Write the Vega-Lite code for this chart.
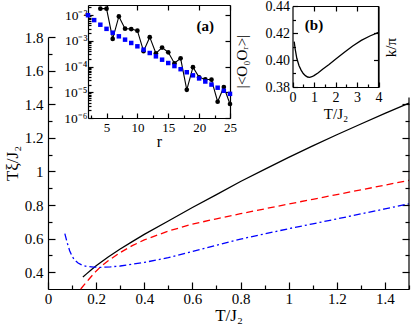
{
  "$schema": "https://vega.github.io/schema/vega-lite/v6.json",
  "width": 411,
  "height": 328,
  "autosize": "none",
  "padding": 0,
  "config": {
    "view": {"stroke": null},
    "font": "Liberation Serif",
    "axis": {
      "grid": false,
      "labelFlush": false,
      "labelOverlap": false,
      "domainColor": "#000",
      "tickColor": "#000",
      "labelColor": "#000",
      "titleColor": "#000",
      "domainWidth": 1.2,
      "tickWidth": 1.2,
      "labelFont": "Liberation Serif",
      "titleFont": "Liberation Serif",
      "titleFontWeight": "normal"
    }
  },
  "datasets": {
    "c1": [
      {"T": 0.145, "v": 0.371}, {"T": 0.16, "v": 0.39}, {"T": 0.18, "v": 0.415}, {"T": 0.2, "v": 0.438},
      {"T": 0.25, "v": 0.49}, {"T": 0.3, "v": 0.538}, {"T": 0.35, "v": 0.582}, {"T": 0.4, "v": 0.625},
      {"T": 0.5, "v": 0.705}, {"T": 0.6, "v": 0.785}, {"T": 0.7, "v": 0.862}, {"T": 0.8, "v": 0.94},
      {"T": 0.9, "v": 1.012}, {"T": 1.0, "v": 1.083}, {"T": 1.1, "v": 1.152}, {"T": 1.2, "v": 1.218},
      {"T": 1.3, "v": 1.282}, {"T": 1.4, "v": 1.345}, {"T": 1.5, "v": 1.406}
    ],
    "c2": [
      {"T": 0.136, "v": 0.3}, {"T": 0.15, "v": 0.325}, {"T": 0.17, "v": 0.358}, {"T": 0.195, "v": 0.399},
      {"T": 0.22, "v": 0.434}, {"T": 0.25, "v": 0.468}, {"T": 0.3, "v": 0.517}, {"T": 0.35, "v": 0.558},
      {"T": 0.4, "v": 0.592}, {"T": 0.5, "v": 0.645}, {"T": 0.6, "v": 0.686}, {"T": 0.7, "v": 0.718},
      {"T": 0.8, "v": 0.748}, {"T": 0.9, "v": 0.777}, {"T": 1.0, "v": 0.806}, {"T": 1.1, "v": 0.834},
      {"T": 1.2, "v": 0.862}, {"T": 1.3, "v": 0.89}, {"T": 1.4, "v": 0.918}, {"T": 1.5, "v": 0.947}
    ],
    "c3": [
      {"T": 0.07, "v": 0.63}, {"T": 0.08, "v": 0.574}, {"T": 0.09, "v": 0.528}, {"T": 0.1, "v": 0.495},
      {"T": 0.11, "v": 0.473}, {"T": 0.125, "v": 0.455}, {"T": 0.14, "v": 0.443}, {"T": 0.16, "v": 0.435},
      {"T": 0.19, "v": 0.43}, {"T": 0.22, "v": 0.429}, {"T": 0.26, "v": 0.432}, {"T": 0.3, "v": 0.437},
      {"T": 0.4, "v": 0.458}, {"T": 0.5, "v": 0.487}, {"T": 0.6, "v": 0.523}, {"T": 0.7, "v": 0.56},
      {"T": 0.8, "v": 0.597}, {"T": 0.9, "v": 0.628}, {"T": 1.0, "v": 0.659}, {"T": 1.1, "v": 0.688},
      {"T": 1.2, "v": 0.717}, {"T": 1.3, "v": 0.747}, {"T": 1.4, "v": 0.777}, {"T": 1.5, "v": 0.807}
    ],
    "blk": [
      {"r": 4, "c": 0.018}, {"r": 5, "c": 0.018}, {"r": 6, "c": 0.0012}, {"r": 7, "c": 0.009},
      {"r": 8, "c": 0.003}, {"r": 9, "c": 0.0029}, {"r": 10, "c": 0.0025}, {"r": 11, "c": 0.0004},
      {"r": 12, "c": 0.0014}, {"r": 13, "c": 0.00033}, {"r": 14, "c": 0.00055}, {"r": 15, "c": 0.00036},
      {"r": 16, "c": 0.000135}, {"r": 17, "c": 0.00021}, {"r": 18, "c": 0.0000125}, {"r": 19, "c": 0.000095},
      {"r": 20, "c": 0.000038}, {"r": 21, "c": 0.000032}, {"r": 22, "c": 0.000031}, {"r": 23, "c": 0.0000043},
      {"r": 24, "c": 0.000016}, {"r": 25, "c": 0.0000035}
    ],
    "blu": [
      {"r": 2, "c": 0.01}, {"r": 3, "c": 0.00646}, {"r": 4, "c": 0.00427}, {"r": 5, "c": 0.00295},
      {"r": 6, "c": 0.00209}, {"r": 7, "c": 0.00151}, {"r": 8, "c": 0.00112}, {"r": 9, "c": 0.000832},
      {"r": 10, "c": 0.000617}, {"r": 11, "c": 0.000457}, {"r": 12, "c": 0.000339}, {"r": 13, "c": 0.000251},
      {"r": 14, "c": 0.000186}, {"r": 15, "c": 0.000138}, {"r": 16, "c": 0.000105}, {"r": 17, "c": 0.0000794},
      {"r": 18, "c": 0.0000603}, {"r": 19, "c": 0.0000457}, {"r": 20, "c": 0.0000347}, {"r": 21, "c": 0.0000263},
      {"r": 22, "c": 0.00002}, {"r": 23, "c": 0.0000151}, {"r": 24, "c": 0.0000115}, {"r": 25, "c": 0.0000087}
    ],
    "kp": [
      {"T": 0.08, "k": 0.4136}, {"T": 0.12, "k": 0.4085}, {"T": 0.2, "k": 0.4013}, {"T": 0.3, "k": 0.396},
      {"T": 0.4, "k": 0.3925}, {"T": 0.5, "k": 0.39}, {"T": 0.6, "k": 0.3884}, {"T": 0.7, "k": 0.3874},
      {"T": 0.8, "k": 0.3872}, {"T": 0.9, "k": 0.3876}, {"T": 1.0, "k": 0.3884}, {"T": 1.2, "k": 0.3905},
      {"T": 1.4, "k": 0.3932}, {"T": 1.7, "k": 0.3967}, {"T": 2.0, "k": 0.4005}, {"T": 2.4, "k": 0.4055},
      {"T": 2.8, "k": 0.4104}, {"T": 3.2, "k": 0.4145}, {"T": 3.6, "k": 0.4178}, {"T": 4.0, "k": 0.4205}
    ]
  },
  "layer": [
    {
      "layer": [
        {
          "data": {"name": "c1"},
          "mark": {"type": "line", "color": "#000000", "strokeWidth": 1.3},
          "encoding": {
            "x": {"field": "T", "type": "quantitative",
              "scale": {"domain": [0, 1.5], "range": [48, 409], "nice": false, "zero": false},
              "axis": {"orient": "bottom", "offset": -39, "values": [0, 0.2, 0.4, 0.6, 0.8, 1, 1.2, 1.4], "format": "~g",
                "tickSize": -7, "labelPadding": 9, "labelFontSize": 15,
                "title": "T/J₂", "titleFontSize": 17, "titleX": 228.5, "titleY": 31, "titleBaseline": "alphabetic", "titleAlign": "center"}},
            "y": {"field": "v", "type": "quantitative",
              "scale": {"domain": [0.3, 1.8], "range": [289, 37], "nice": false, "zero": false},
              "axis": {"orient": "left", "offset": -48, "values": [0.4, 0.6, 0.8, 1, 1.2, 1.4, 1.6, 1.8], "format": "~g",
                "tickSize": -7, "labelPadding": 12, "labelFontSize": 15,
                "title": "Tξ/J₂", "titleFontSize": 17, "titleAngle": 270, "titleX": -31, "titleY": 163, "titleBaseline": "alphabetic", "titleAlign": "center"}}
          }
        },
        {
          "data": {"name": "c2"},
          "mark": {"type": "line", "color": "#ff0000", "strokeWidth": 1.3, "strokeDash": [7, 4]},
          "encoding": {
            "x": {"field": "T", "type": "quantitative",
              "scale": {"domain": [0, 1.5], "range": [48, 409], "nice": false, "zero": false},
              "axis": {"orient": "bottom", "offset": -39, "values": [0.1, 0.3, 0.5, 0.7, 0.9, 1.1, 1.3, 1.5],
                "tickSize": -4, "labels": false, "domain": false, "title": null}},
            "y": {"field": "v", "type": "quantitative",
              "scale": {"domain": [0.3, 1.8], "range": [289, 37], "nice": false, "zero": false},
              "axis": {"orient": "left", "offset": -48, "values": [0.5, 0.7, 0.9, 1.1, 1.3, 1.5, 1.7],
                "tickSize": -4, "labels": false, "domain": false, "title": null}}
          }
        },
        {
          "data": {"name": "c3"},
          "mark": {"type": "line", "color": "#0000ff", "strokeWidth": 1.3, "strokeDash": [7, 3, 2, 3]},
          "encoding": {
            "x": {"field": "T", "type": "quantitative",
              "scale": {"domain": [0, 1.5], "range": [48, 409], "nice": false, "zero": false}, "axis": null},
            "y": {"field": "v", "type": "quantitative",
              "scale": {"domain": [0.3, 1.8], "range": [289, 37], "nice": false, "zero": false},
              "axis": {"orient": "right", "offset": -2, "values": [0.4, 0.6, 0.8, 1, 1.2, 1.4],
                "tickSize": -7, "labels": false, "domain": false, "title": null}}
          }
        },
        {
          "data": {"values": [{}]},
          "mark": {"type": "rule", "color": "#000000", "strokeWidth": 1.2},
          "encoding": {
            "x": {"datum": 1.5, "scale": {"domain": [0, 1.5], "range": [48, 409], "nice": false, "zero": false}, "axis": null},
            "y": {"datum": 0.3, "scale": {"domain": [0.3, 1.8], "range": [289, 37], "nice": false, "zero": false},
              "axis": {"orient": "right", "offset": -2, "values": [0.5, 0.7, 0.9, 1.1, 1.3],
                "tickSize": -4, "labels": false, "domain": false, "title": null}},
            "y2": {"datum": 1.44}
          }
        }
      ],
      "resolve": {"axis": {"x": "independent", "y": "independent"}}
    },
    {
      "layer": [
        {
          "data": {"name": "blk"},
          "mark": {"type": "line", "color": "#000000", "strokeWidth": 1.1},
          "encoding": {
            "x": {"field": "r", "type": "quantitative",
              "scale": {"domain": [2, 25], "range": [88, 230], "nice": false, "zero": false},
              "axis": {"orient": "bottom", "offset": -210, "values": [5, 10, 15, 20, 25],
                "tickSize": -5, "labelPadding": 8, "labelFontSize": 13,
                "title": "r", "titleFontSize": 16, "titleX": 159, "titleY": 28, "titleBaseline": "alphabetic", "titleAlign": "center"}},
            "y": {"field": "c", "type": "quantitative",
              "scale": {"type": "log", "domain": [0.000001, 0.025], "range": [118, 5], "nice": false},
              "axis": {"orient": "left", "offset": -88, "values": [0.000001, 0.00001, 0.0001, 0.001, 0.01],
                "labelExpr": "datum.value < 0.000005 ? '10⁻⁶' : datum.value < 0.00005 ? '10⁻⁵' : datum.value < 0.0005 ? '10⁻⁴' : datum.value < 0.005 ? '10⁻³' : '10⁻²'",
                "tickSize": -5, "labelPadding": 6, "labelFontSize": 13.5, "title": null}}
          }
        },
        {
          "data": {"name": "blk"},
          "mark": {"type": "circle", "color": "#000000", "opacity": 1, "size": 22},
          "encoding": {
            "x": {"field": "r", "type": "quantitative",
              "scale": {"domain": [2, 25], "range": [88, 230], "nice": false, "zero": false},
              "axis": {"orient": "bottom", "offset": -210, "values": [2.5, 7.5, 12.5, 17.5, 22.5],
                "tickSize": -3, "labels": false, "domain": false, "title": null}},
            "y": {"field": "c", "type": "quantitative",
              "scale": {"type": "log", "domain": [0.000001, 0.025], "range": [118, 5], "nice": false},
              "axis": {"orient": "left", "offset": -88,
                "values": [0.000002, 0.000003, 0.000004, 0.000005, 0.000006, 0.000007, 0.000008, 0.000009,
                  0.00002, 0.00003, 0.00004, 0.00005, 0.00006, 0.00007, 0.00008, 0.00009,
                  0.0002, 0.0003, 0.0004, 0.0005, 0.0006, 0.0007, 0.0008, 0.0009,
                  0.002, 0.003, 0.004, 0.005, 0.006, 0.007, 0.008, 0.009, 0.02],
                "tickSize": -3, "labels": false, "domain": false, "title": null}}
          }
        },
        {
          "data": {"name": "blu"},
          "mark": {"type": "square", "color": "#0000ff", "opacity": 1, "size": 20},
          "encoding": {
            "x": {"field": "r", "type": "quantitative",
              "scale": {"domain": [2, 25], "range": [88, 230], "nice": false, "zero": false},
              "axis": {"orient": "top", "offset": -5, "values": [5, 10, 15, 20, 25],
                "tickSize": -5, "labels": false, "domain": true, "title": null}},
            "y": {"field": "c", "type": "quantitative",
              "scale": {"type": "log", "domain": [0.000001, 0.025], "range": [118, 5], "nice": false},
              "axis": {"orient": "right", "offset": -181, "values": [0.000001, 0.00001, 0.0001, 0.001, 0.01],
                "tickSize": -5, "labels": false, "domain": true,
                "title": "|<O₀Oᵣ>|", "titleFontSize": 15, "titleAngle": 270, "titleX": 16, "titleY": 61, "titleBaseline": "alphabetic", "titleAlign": "center"}}
          }
        },
        {
          "data": {"values": [{}]},
          "mark": {"type": "text", "text": "(a)", "font": "Liberation Serif", "fontWeight": "bold", "fontSize": 15, "color": "#000000"},
          "encoding": {
            "x": {"datum": 21, "scale": {"domain": [2, 25], "range": [88, 230], "nice": false, "zero": false}, "axis": null},
            "y": {"datum": 0.0038, "scale": {"type": "log", "domain": [0.000001, 0.025], "range": [118, 5], "nice": false}, "axis": null}
          }
        }
      ],
      "resolve": {"axis": {"x": "independent", "y": "independent"}}
    },
    {
      "layer": [
        {
          "data": {"name": "kp"},
          "mark": {"type": "line", "color": "#000000", "strokeWidth": 1.3},
          "encoding": {
            "x": {"field": "T", "type": "quantitative",
              "scale": {"domain": [0, 4], "range": [292.5, 378.5], "nice": false, "zero": false},
              "axis": {"orient": "bottom", "offset": -241, "values": [0, 1, 2, 3, 4],
                "tickSize": -5, "labelPadding": 8, "labelFontSize": 14,
                "title": "T/J₂", "titleFontSize": 15, "titleX": 335.5, "titleY": 31, "titleBaseline": "alphabetic", "titleAlign": "center"}},
            "y": {"field": "k", "type": "quantitative",
              "scale": {"domain": [0.38, 0.44], "range": [87, 6], "nice": false, "zero": false},
              "axis": {"orient": "left", "offset": -292.5, "values": [0.38, 0.4, 0.42, 0.44], "format": ".2f",
                "tickSize": -5, "labelPadding": 8, "labelFontSize": 14, "title": null}}
          }
        },
        {
          "data": {"values": [{}]},
          "mark": {"type": "text", "text": "(b)", "font": "Liberation Serif", "fontWeight": "bold", "fontSize": 15, "color": "#000000"},
          "encoding": {
            "x": {"datum": 1.0, "scale": {"domain": [0, 4], "range": [292.5, 378.5], "nice": false, "zero": false},
              "axis": {"orient": "bottom", "offset": -241, "values": [0.5, 1.5, 2.5, 3.5],
                "tickSize": -3, "labels": false, "domain": false, "title": null}},
            "y": {"datum": 0.426, "scale": {"domain": [0.38, 0.44], "range": [87, 6], "nice": false, "zero": false},
              "axis": {"orient": "left", "offset": -292.5, "values": [0.39, 0.41, 0.43],
                "tickSize": -3, "labels": false, "domain": false, "title": null}}
          }
        },
        {
          "data": {"values": [{}]},
          "mark": {"type": "rule", "color": "#000000", "strokeWidth": 1.2},
          "encoding": {
            "x": {"datum": 4, "scale": {"domain": [0, 4], "range": [292.5, 378.5], "nice": false, "zero": false},
              "axis": {"orient": "top", "offset": -6, "values": [1, 2, 3],
                "tickSize": -5, "labels": false, "domain": true, "title": null}},
            "y": {"datum": 0.38, "scale": {"domain": [0.38, 0.44], "range": [87, 6], "nice": false, "zero": false},
              "axis": {"orient": "right", "offset": -32.5, "values": [0.4, 0.42],
                "tickSize": -5, "labels": false, "domain": true,
                "title": "k/π", "titleFontSize": 15, "titleAngle": 270, "titleX": 17, "titleY": 47, "titleBaseline": "alphabetic", "titleAlign": "center"}},
            "y2": {"datum": 0.44}
          }
        }
      ],
      "resolve": {"axis": {"x": "independent", "y": "independent"}}
    }
  ],
  "resolve": {
    "scale": {"x": "independent", "y": "independent"},
    "axis": {"x": "independent", "y": "independent"}
  }
}
